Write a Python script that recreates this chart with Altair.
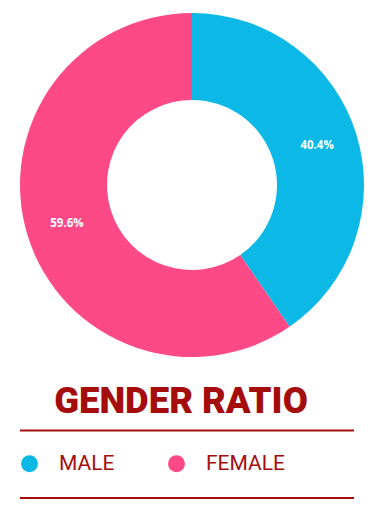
import altair as alt
import pandas as pd

categories = ["MALE", "FEMALE"]
values = [40.4, 59.6]
labels = ["40.4%", "59.6%"]
colors = ["#0cb9e6", "#fd4a87"]
title_text = ["GENDER RATIO"]

DARK_RED = "#a50d0d"

df = pd.DataFrame({"gender": categories, "value": values, "label": labels, "idx": [0, 1]})

color_scale = alt.Scale(domain=categories, range=colors)

base = alt.Chart(df).encode(
    theta=alt.Theta("value:Q", stack=True),
    order=alt.Order("idx:Q"),
)

arcs = base.mark_arc(radius=172, radius2=85, stroke=None).encode(
    x=alt.value(192),
    y=alt.value(185),
    color=alt.Color(
        "gender:N",
        scale=color_scale,
        sort=categories,
        legend=alt.Legend(
            title=None,
            orient="none",
            legendX=19,
            legendY=453,
            direction="horizontal",
            symbolType="circle",
            symbolSize=289,
            symbolStrokeWidth=0,
            labelFont="Roboto",
            labelFontSize=21,
            labelColor=DARK_RED,
            labelOffset=19,
            columnPadding=51,
            padding=0,
        ),
    ),
)

pct = base.mark_text(
    radius=131, color="white", font="Open Sans", fontWeight=700, fontSize=11.5
).encode(x=alt.value(192), y=alt.value(185), text="label:N")

title = alt.Chart(pd.DataFrame({"t": title_text})).mark_text(
    font="Roboto", fontWeight=900, fontSize=36.5, color=DARK_RED, baseline="alphabetic"
).encode(text="t:N", x=alt.value(181), y=alt.value(413))

rule_top = alt.Chart(pd.DataFrame({"a": [0]})).mark_rule(color=DARK_RED, strokeWidth=2).encode(
    x=alt.value(20), x2=alt.value(354), y=alt.value(430.5)
)
rule_bot = alt.Chart(pd.DataFrame({"a": [0]})).mark_rule(color=DARK_RED, strokeWidth=2).encode(
    x=alt.value(20), x2=alt.value(354), y=alt.value(498)
)

chart = (
    alt.layer(arcs, pct, title, rule_top, rule_bot)
    .properties(width=377, height=512, padding=0, autosize=alt.AutoSizeParams(type="none"), background="white")
    .configure_view(stroke=None)
)

chart.save("out.html", embed_options={"renderer": "svg", "actions": False})
